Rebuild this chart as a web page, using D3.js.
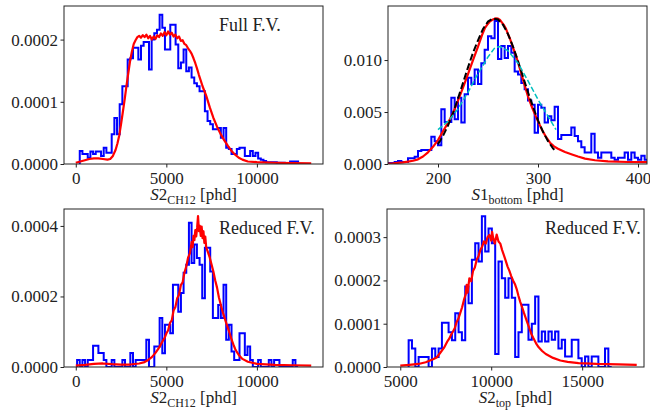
<!DOCTYPE html>
<html>
<head>
<meta charset="utf-8">
<script src="https://cdn.jsdelivr.net/npm/d3@7"></script>
<style>
body { margin: 0; background: #fff; }
svg text { font-family: "Liberation Serif", "Times New Roman", serif; fill: #222; }
</style>
</head>
<body>
<svg width="650" height="413"></svg>
<script>
// blue step histograms: first bin edge, bin width, bin heights
var blue1Start = 220, blue1Width = 147;
var blue1 = [0.000021, 0.000016, 0.000016, 0.000010, 0.000020, 0.000016, 0.000020, 0.000020, 0.000013, 0.000026,
  0.000018, 0.000018, 0.000048, 0.000074, 0.000048, 0.000096, 0.000125, 0.000125, 0.000168, 0.000170,
  0.000187, 0.000187, 0.000168, 0.000190, 0.000196, 0.000196, 0.000152, 0.000200, 0.000210, 0.000216,
  0.000240, 0.000219, 0.000184, 0.000184, 0.000224, 0.000224, 0.000192, 0.000154, 0.000163, 0.000184,
  0.000149, 0.000155, 0.000139, 0.000130, 0.000125, 0.000117, 0.000117, 0.000085, 0.000069, 0.000064,
  0.000056, 0.000056, 0.000058, 0.000042, 0.000058, 0.000026, 0.000024, 0.000016, 0.000016, 0.000024,
  0.000026, 0.000026, 0.000013, 0.000013, 0.000021, 0.000013, 0.000018, 0.000009, 0.000007, 0.000005,
  0.000003, 0.000003, 0.000003, 0.000003, 0.000002, 0.000002, 0.000002, 0, 0, 0.000004,
  0.000004, 0.000004, 0];

var blue2Start = 150, blue2Width = 3.333;
var blue2 = [0.0001, 0.0001, 0.0002, 0.0003, 0.0002, 0.0002, 0.00055, 0.00055, 0.0007, 0.00125,
  0.00134, 0.00134, 0.00134, 0.00263, 0.0022, 0.0018, 0.00526, 0.00404, 0.00404, 0.00638,
  0.0043, 0.00638, 0.0040, 0.0067, 0.0083, 0.0077, 0.0091, 0.0077, 0.0097, 0.0110,
  0.0123, 0.0121, 0.01375, 0.0101, 0.01135, 0.0102, 0.01135, 0.0107, 0.0089, 0.0086,
  0.0078, 0.0072, 0.0061, 0.0057, 0.0030, 0.0057, 0.0054, 0.0040, 0.0046, 0.0042,
  0.0055, 0.0024, 0.0028, 0.0028, 0.0028, 0.0035, 0.0027, 0.0022, 0.0016, 0.0011,
  0.0011, 0.0029, 0.0011, 0.0006, 0.0011, 0.0011, 0.0011, 0.0006, 0.0004, 0.0006,
  0.0006, 0.0011, 0.0004, 0.0011, 0.0006, 0.0004, 0.0008, 0.0004];

var blue3Start = 73, blue3Width = 147;
var blue3 = [0.00002, 0, 0.00002, 0, 0.00002, 0.00002, 0.00006, 0.00006, 0.00004, 0.00004,
  0.00002, 0, 0, 0.00002, 0, 0, 0, 0.00002, 0, 0,
  0.00004, 0, 0.00002, 0.00002, 0.00002, 0.00002, 0.000077, 0, 0, 0.000058,
  0.000058, 0.000139, 0.000039, 0.00012, 0.00012, 0.000096, 0.000233, 0.000233, 0.000157, 0.00021,
  0.000267, 0.00029, 0.000409, 0.000295, 0.000347, 0.000309, 0.00029, 0.000195, 0.000338, 0.000338,
  0.000271, 0.000139, 0.000139, 0.000176, 0.000139, 0.000233, 0.000077, 0.00012, 0.000044, 0.00002,
  0.00002, 0.000096, 0.000096, 0.000034, 0.000058, 0.00002, 0, 0, 0.00002, 0,
  0, 0, 0.00002, 0, 0.00002, 0.00002, 0, 0, 0, 0,
  0, 0.00002, 0];

var blue4Start = 5460, blue4Width = 183;
var blue4 = [0.000062, 0.000043, 0, 0.000023, 0.000023, 0.000023, 0, 0.000043, 0.000023, 0.000043,
  0.000102, 0.000102, 0.00008, 0.000062, 0.000124, 0.00008, 0.000062, 0.000186, 0.000147, 0.000248,
  0.000286, 0.000244, 0.000348, 0.000267, 0.00032, 0.000286, 0.00003, 0.000244, 0.000205, 0.00016,
  0.000205, 0.00016, 0.000023, 0.00008, 0.000144, 0.000144, 0.000063, 0.0001, 0.000163, 0.000059,
  0.000082, 0.000059, 0.000082, 0.000063, 0.000082, 0.000043, 0.000063, 0.000024, 0.000024, 0.000063,
  0.000063, 0.00002, 0, 0.000024, 0, 0.000024, 0.000024, 0, 0, 0.000043, 0];

// red fine-binned distributions [x, density]
var red1 = [[0, 0.000002], [250, 0.000004], [500, 0.000006], [750, 0.000008], [1000, 0.000009], [1250, 0.000009],
  [1500, 0.000008], [1750, 0.000007], [1900, 0.000008], [2050, 0.000013], [2200, 0.000023], [2300, 0.000033],
  [2400, 0.000046], [2500, 0.000064], [2600, 0.000084], [2700, 0.000104], [2800, 0.000126], [2900, 0.000146],
  [3000, 0.000166], [3100, 0.000181], [3200, 0.000193], [3300, 0.000199], [3400, 0.000204], [3500, 0.000206],
  [3600, 0.000203], [3700, 0.000207], [3800, 0.000204], [3900, 0.000208], [4000, 0.000202], [4100, 0.000206],
  [4200, 0.000200], [4300, 0.000205], [4400, 0.000201], [4500, 0.000207], [4600, 0.000204], [4700, 0.000210],
  [4800, 0.000206], [4900, 0.000212], [5000, 0.000207], [5100, 0.000213], [5200, 0.000208], [5300, 0.000211],
  [5400, 0.000205], [5500, 0.000208], [5600, 0.000202], [5700, 0.000205], [5800, 0.000198], [5900, 0.000199],
  [6000, 0.000193], [6100, 0.000191], [6200, 0.000186], [6300, 0.000182], [6400, 0.000177], [6500, 0.000170],
  [6600, 0.000162], [6700, 0.000153], [6800, 0.000143], [6900, 0.000134], [7000, 0.000125], [7200, 0.000110],
  [7400, 0.000091], [7600, 0.000074], [7800, 0.000060], [8000, 0.000048], [8200, 0.000038], [8400, 0.000029],
  [8600, 0.000021], [8800, 0.000015], [9000, 0.000010], [9200, 0.000007], [9500, 0.000004], [10000, 0.000003],
  [11000, 0.000002], [12000, 0.0000015], [13000, 0.000001]];

var red2 = [[150, 0.00003], [155, 0.00006], [160, 0.00011], [165, 0.00016], [170, 0.00023], [175, 0.00031],
  [180, 0.00045], [185, 0.00072], [190, 0.00112], [195, 0.00165], [200, 0.00230], [205, 0.00315],
  [210, 0.00395], [215, 0.00490], [220, 0.00610], [225, 0.00735], [230, 0.00865], [235, 0.01000],
  [240, 0.01130], [244, 0.01240], [247, 0.01310], [250, 0.01350], [252, 0.01372], [254, 0.01385],
  [256, 0.01395], [258, 0.01402], [260, 0.01398], [262, 0.01385], [264, 0.01360], [266, 0.01335],
  [268, 0.01300], [270, 0.01250], [272, 0.01205], [275, 0.01120], [278, 0.01040], [281, 0.00945],
  [284, 0.00845], [287, 0.00745], [290, 0.00650], [293, 0.00570], [296, 0.00500], [300, 0.00410],
  [304, 0.00330], [308, 0.00260], [312, 0.00205], [316, 0.00170], [320, 0.00147], [327, 0.00115],
  [334, 0.00092], [340, 0.00072], [347, 0.00052], [357, 0.00036], [370, 0.00026], [390, 0.00019], [410, 0.00017]];

var red3 = [[0, 0.000004], [500, 0.000006], [1000, 0.000009], [1500, 0.000010], [2000, 0.000008], [2500, 0.000007],
  [3000, 0.000007], [3500, 0.000010], [3800, 0.000014], [4000, 0.000020], [4200, 0.000028], [4400, 0.000040],
  [4600, 0.000055], [4800, 0.000074], [4900, 0.000082], [5000, 0.000095], [5100, 0.000104], [5200, 0.000125],
  [5300, 0.000132], [5400, 0.000160], [5500, 0.000170], [5600, 0.000195], [5700, 0.000205], [5800, 0.000232],
  [5900, 0.000240], [6000, 0.000268], [6100, 0.000285], [6200, 0.000310], [6300, 0.000322], [6400, 0.000355],
  [6450, 0.000340], [6500, 0.000372], [6550, 0.000360], [6600, 0.000388], [6650, 0.000370], [6700, 0.000395],
  [6750, 0.000428], [6800, 0.000385], [6850, 0.000400], [6900, 0.000372], [6950, 0.000398], [7000, 0.000365],
  [7050, 0.000385], [7100, 0.000352], [7150, 0.000370], [7200, 0.000340], [7300, 0.000325], [7400, 0.000310],
  [7500, 0.000290], [7600, 0.000270], [7700, 0.000245], [7800, 0.000225], [7900, 0.000198], [8000, 0.000178],
  [8100, 0.000158], [8200, 0.000142], [8300, 0.000126], [8400, 0.000110], [8500, 0.000095], [8600, 0.000078],
  [8700, 0.000064], [8800, 0.000051], [8900, 0.000042], [9000, 0.000034], [9200, 0.000023], [9500, 0.000015],
  [10000, 0.000009], [11000, 0.000006], [12000, 0.000005], [13000, 0.000004]];

var red4 = [[5000, 0.000003], [5500, 0.000005], [6000, 0.000007], [6400, 0.000011], [6800, 0.000018], [7000, 0.000022],
  [7200, 0.000033], [7400, 0.000044], [7500, 0.000052], [7600, 0.000060], [7700, 0.000066], [7800, 0.000075],
  [7900, 0.000082], [8000, 0.000090], [8100, 0.000104], [8200, 0.000112], [8300, 0.000125], [8400, 0.000138],
  [8500, 0.000155], [8600, 0.000168], [8650, 0.000190], [8700, 0.000172], [8800, 0.000205], [8900, 0.000198],
  [9000, 0.000222], [9100, 0.000230], [9200, 0.000248], [9300, 0.000256], [9400, 0.000270], [9500, 0.000278],
  [9600, 0.000290], [9700, 0.000285], [9800, 0.000300], [9900, 0.000305], [10000, 0.000292], [10050, 0.000312],
  [10100, 0.000300], [10200, 0.000285], [10300, 0.000306], [10400, 0.000290], [10500, 0.000285], [10600, 0.000270],
  [10700, 0.000258], [10800, 0.000245], [10900, 0.000232], [11000, 0.000222], [11100, 0.000210], [11200, 0.000200],
  [11300, 0.000192], [11400, 0.000180], [11500, 0.000164], [11600, 0.000150], [11700, 0.000138], [11800, 0.000125],
  [11900, 0.000113], [12000, 0.000101], [12100, 0.000089], [12200, 0.000077], [12300, 0.000068], [12400, 0.000060],
  [12500, 0.000052], [12600, 0.000046], [12800, 0.000037], [13000, 0.000030], [13400, 0.000021], [13800, 0.000015],
  [14200, 0.000012], [14800, 0.000009], [15800, 0.000007], [17000, 0.000006], [18000, 0.000005]];

// fitted curves in the S1 panel
var fitBlack = [[200, 0.0019], [205, 0.0027], [210, 0.0037], [215, 0.0049], [220, 0.0063], [225, 0.0078],
  [230, 0.0093], [235, 0.0107], [240, 0.0119], [245, 0.0130], [250, 0.0137], [255, 0.0140], [260, 0.0139],
  [265, 0.0134], [270, 0.0125], [275, 0.0113], [280, 0.0099], [285, 0.0084], [290, 0.0069], [295, 0.0055],
  [300, 0.0042], [305, 0.0031], [310, 0.0022], [315, 0.0015], [318, 0.0012]];
var fitCyan = [[200, 0.0033], [210, 0.0041], [220, 0.0053], [230, 0.0069], [240, 0.0087], [250, 0.0103],
  [257, 0.0112], [262, 0.0113], [270, 0.0109], [280, 0.0097], [290, 0.0080], [300, 0.0062], [310, 0.0046], [318, 0.0033]];

var xTicks = [[0, 5000, 10000], [200, 300, 400], [0, 5000, 10000], [5000, 10000, 15000]];
var yTicks = [[0, 0.0001, 0.0002], [0, 0.005, 0.010], [0, 0.0002, 0.0004], [0, 0.0001, 0.0002, 0.0003]];
var xLabels = [["S", "2", "CH12"], ["S", "1", "bottom"], ["S", "2", "CH12"], ["S", "2", "top"]];
var regionLabels = ["Full F.V.", "", "Reduced F.V.", "Reduced F.V."];

var svg = d3.select("svg");

function histPoints(start, width, values) {
  var pts = [[start, 0]];
  values.forEach(function(v, i) {
    pts.push([start + i * width, v]);
    pts.push([start + (i + 1) * width, v]);
  });
  pts.push([start + values.length * width, 0]);
  return pts;
}

var panels = [
  {box: [64, 6, 323, 164], xd: [-650, 13650], yd: [0, 0.000254], fmt: ".4f", hist: histPoints(blue1Start, blue1Width, blue1), red: red1, labelAt: 155},
  {box: [388, 6, 647, 164], xd: [150, 409], yd: [0, 0.0152], fmt: ".3f", hist: histPoints(blue2Start, blue2Width, blue2), red: red2, labelAt: 0},
  {box: [64, 209, 323, 367], xd: [-650, 13650], yd: [0, 0.000448], fmt: ".4f", hist: histPoints(blue3Start, blue3Width, blue3), red: red3, labelAt: 155},
  {box: [387, 209, 644, 367], xd: [4270, 18400], yd: [0, 0.000365], fmt: ".4f", hist: histPoints(blue4Start, blue4Width, blue4), red: red4, labelAt: 158}
];

panels.forEach(function(p, i) {
  var w = p.box[2] - p.box[0], h = p.box[3] - p.box[1];
  var g = svg.append("g").attr("transform", "translate(" + p.box[0] + "," + p.box[1] + ")");
  var x = d3.scaleLinear().domain(p.xd).range([0, w]);
  var y = d3.scaleLinear().domain(p.yd).range([h, 0]);
  var line = d3.line().x(function(d) { return x(d[0]); }).y(function(d) { return y(d[1]); });

  g.append("clipPath").attr("id", "clip" + i)
    .append("rect").attr("width", w).attr("height", h);
  var plot = g.append("g").attr("clip-path", "url(#clip" + i + ")");

  plot.append("path").datum(p.hist)
    .attr("d", line).attr("fill", "none")
    .attr("stroke", "#0000ff").attr("stroke-width", 2).attr("stroke-linejoin", "miter");

  plot.append("path").datum(p.red)
    .attr("d", line).attr("fill", "none")
    .attr("stroke", "#ff0000").attr("stroke-width", 2.2).attr("stroke-linejoin", "round");

  if (i === 1) {
    plot.append("path").datum(fitBlack)
      .attr("d", line).attr("fill", "none")
      .attr("stroke", "#000").attr("stroke-width", 2).attr("stroke-dasharray", "7,3");
    plot.append("path").datum(fitCyan)
      .attr("d", line).attr("fill", "none")
      .attr("stroke", "#00bfbf").attr("stroke-width", 1.5).attr("stroke-dasharray", "5.5,2.4");
  }

  var xAxis = g.append("g").attr("transform", "translate(0," + h + ")")
    .call(d3.axisBottom(x).tickValues(xTicks[i]).tickFormat(d3.format("d")).tickSize(3.5).tickPadding(4));
  var yAxis = g.append("g")
    .call(d3.axisLeft(y).tickValues(yTicks[i]).tickFormat(d3.format(p.fmt)).tickSize(3.5).tickPadding(2.5));
  [xAxis, yAxis].forEach(function(a) {
    a.select(".domain").remove();
    a.selectAll("line").attr("stroke", "#222");
    a.selectAll("text").attr("font-size", "17px").attr("fill", "#222").attr("font-family", "Liberation Serif");
  });

  g.append("rect").attr("width", w).attr("height", h)
    .attr("fill", "none").attr("stroke", "#222").attr("stroke-width", 1);

  if (regionLabels[i]) {
    g.append("text").attr("x", p.labelAt).attr("y", 25)
      .attr("font-size", "18px").text(regionLabels[i]);
  }

  var lab = g.append("text").attr("x", w / 2).attr("y", h + 36)
    .attr("text-anchor", "middle").attr("font-size", "17px");
  lab.append("tspan").attr("font-style", "italic").text(xLabels[i][0]);
  lab.append("tspan").text(xLabels[i][1]);
  lab.append("tspan").attr("font-size", "12px").attr("dy", 3.5).text(xLabels[i][2]);
  lab.append("tspan").attr("dy", -3.5).text(" [phd]");
});
</script>
</body>
</html>
